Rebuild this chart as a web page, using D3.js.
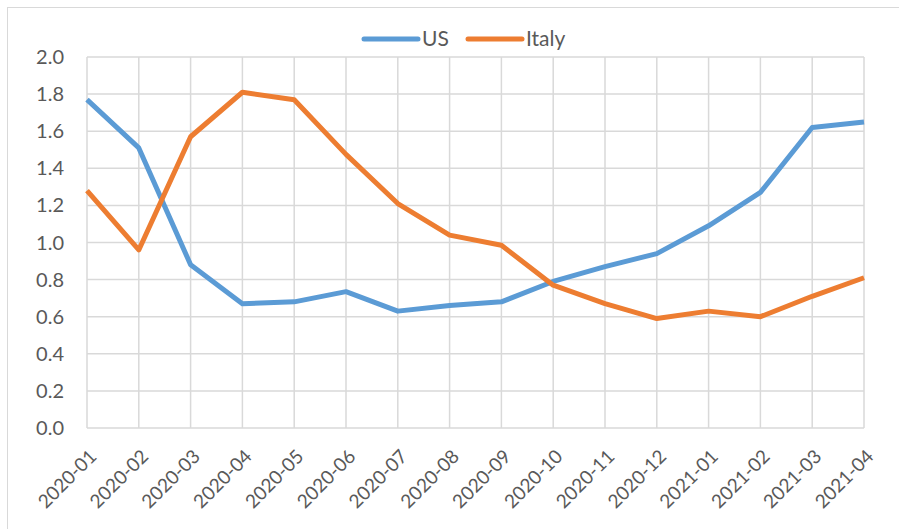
<!DOCTYPE html>
<html>
<head>
<meta charset="utf-8">
<script src="https://cdn.jsdelivr.net/npm/d3@7"></script>
<style>
  body { margin: 0; background: #fff; }
  text { font-family: Lato, "Open Sans", sans-serif; fill: #595959; }
</style>
</head>
<body>
<svg></svg>
<script>
const months = ["2020-01","2020-02","2020-03","2020-04","2020-05","2020-06","2020-07","2020-08",
    "2020-09","2020-10","2020-11","2020-12","2021-01","2021-02","2021-03","2021-04"];
const usValues = [1.77, 1.51, 0.88, 0.67, 0.68, 0.735, 0.63, 0.66, 0.68, 0.79, 0.87, 0.94, 1.09, 1.27, 1.62, 1.65];
const italyValues = [1.28, 0.96, 1.57, 1.81, 1.77, 1.475, 1.21, 1.04, 0.985, 0.77, 0.67, 0.59, 0.63, 0.60, 0.71, 0.81];
const yTicks = [0, 0.2, 0.4, 0.6, 0.8, 1.0, 1.2, 1.4, 1.6, 1.8, 2.0];

const seriesList = [
    { name: "US", values: usValues, color: "#5B9BD5" },
    { name: "Italy", values: italyValues, color: "#ED7D31" }
];

const W = 899, H = 529;
const margin = { top: 57, right: 35, bottom: 101, left: 87 };

const svg = d3.select("svg").attr("width", W).attr("height", H);

// outer chart frame
svg.append("rect")
    .attr("x", 7.5).attr("y", 7.5)
    .attr("width", W).attr("height", H)
    .attr("fill", "none").attr("stroke", "#D9D9D9").attr("stroke-width", 1);

const g = svg.append("g").attr("transform", "translate(" + margin.left + "," + margin.top + ")");
const width = W - margin.left - margin.right,
    height = H - margin.top - margin.bottom;

const x = d3.scalePoint().domain(months).range([0, width]);
const y = d3.scaleLinear().domain([0, 2]).range([height, 0]);

// grid
g.selectAll(".hgrid").data(yTicks).enter().append("line")
    .attr("x1", 0).attr("x2", width)
    .attr("y1", d => y(d)).attr("y2", d => y(d))
    .attr("stroke", "#D9D9D9").attr("stroke-width", 1.5);
g.selectAll(".vgrid").data(months).enter().append("line")
    .attr("x1", d => x(d)).attr("x2", d => x(d))
    .attr("y1", 0).attr("y2", height)
    .attr("stroke", "#D9D9D9").attr("stroke-width", 1.5);

// y labels
g.selectAll(".ylab").data(yTicks).enter().append("text")
    .attr("x", -23).attr("y", d => y(d))
    .attr("dy", "0.35em")
    .attr("text-anchor", "end")
    .style("font-size", "20px")
    .text(d => d.toFixed(1));

// x labels
g.selectAll(".xlab").data(months).enter().append("text")
    .attr("transform", d => "translate(" + (x(d) + 6) + "," + (height + 25) + ") rotate(-45)")
    .attr("text-anchor", "end")
    .attr("dy", "0.35em")
    .style("font-size", "19px")
    .text(d => d);

// lines
const line = d3.line().x((d, i) => x(months[i])).y(d => y(d));
seriesList.forEach(s => {
    g.append("path")
        .datum(s.values)
        .attr("d", line)
        .attr("fill", "none")
        .attr("stroke", s.color)
        .attr("stroke-width", 5)
        .attr("stroke-linejoin", "round");
});

// legend
const legend = svg.append("g").attr("transform", "translate(364,39)");
const legendX = [0, 104];
seriesList.forEach((s, i) => {
    const lg = legend.append("g").attr("transform", "translate(" + legendX[i] + ",0)");
    lg.append("line")
        .attr("x1", 0).attr("x2", 54).attr("y1", 0).attr("y2", 0)
        .attr("stroke", s.color).attr("stroke-width", 5).attr("stroke-linecap", "round");
    lg.append("text")
        .attr("x", 58).attr("y", 0).attr("dy", "0.35em")
        .style("font-size", "21px")
        .text(s.name);
});
</script>
</body>
</html>
